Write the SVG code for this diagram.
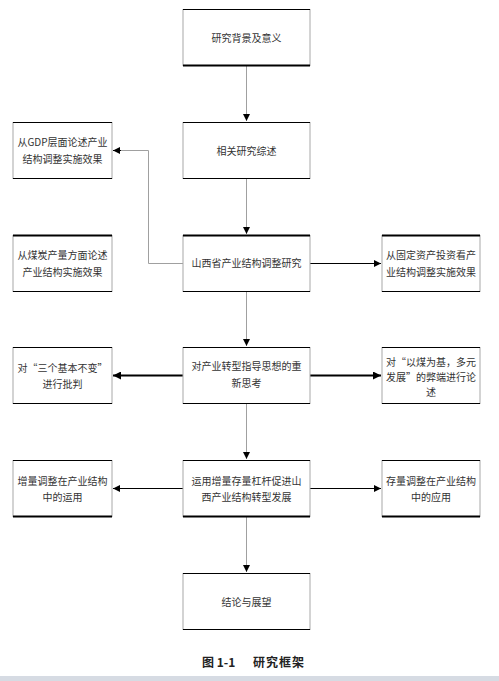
<svg xmlns="http://www.w3.org/2000/svg" width="499" height="681" viewBox="0 0 499 681">
<style>
.box{fill:#fff;stroke:#a8a8a8;stroke-width:1}
.tb{stroke:#000;stroke-width:1}
.tk{stroke:#000;stroke-width:2}
.t{font-family:"Noto Sans CJK SC","Noto Sans",sans-serif;font-size:10px;fill:#333;text-anchor:middle}
.c{font-family:"Noto Sans CJK SC","Noto Sans",sans-serif;font-size:12px;font-weight:bold;fill:#222}
.g{stroke:#a0a0a0;stroke-width:1;fill:none}
.k{stroke:#000;stroke-width:1;fill:none}
.k2{stroke:#000;stroke-width:2.2;fill:none}
</style>
<defs>
<marker id="a" viewBox="0 0 10 10" refX="10" refY="5" markerWidth="7" markerHeight="7" markerUnits="userSpaceOnUse" orient="auto"><path d="M0,0L10,5L0,10z" fill="#000"/></marker>
<marker id="a2" viewBox="0 0 10 10" refX="10" refY="5" markerWidth="8" markerHeight="8" markerUnits="userSpaceOnUse" orient="auto"><path d="M0,0L10,5L0,10z" fill="#000"/></marker>
</defs>
<rect width="499" height="681" fill="#fff"/>
<g id="connectors">
<line class="g" x1="246.5" y1="66" x2="246.5" y2="121" marker-end="url(#a)"/>
<line class="g" x1="246.5" y1="178" x2="246.5" y2="234" marker-end="url(#a)"/>
<line class="g" x1="246.5" y1="292" x2="246.5" y2="346" marker-end="url(#a)"/>
<line class="g" x1="246.5" y1="404" x2="246.5" y2="459" marker-end="url(#a)"/>
<line class="g" x1="246.5" y1="517" x2="246.5" y2="572" marker-end="url(#a)"/>
<polyline class="g" points="183,263.5 148.5,263.5 148.5,150.5 120,150.5"/>
<line class="k" x1="121" y1="150.5" x2="113" y2="150.5" marker-end="url(#a)"/>
<line class="k" x1="310" y1="263.5" x2="381" y2="263.5" marker-end="url(#a)"/>
<line class="k2" x1="183" y1="375.5" x2="113" y2="375.5" marker-end="url(#a2)"/>
<line class="k2" x1="310" y1="375.5" x2="381" y2="375.5" marker-end="url(#a2)"/>
<line class="k" x1="183" y1="488.5" x2="113" y2="488.5" marker-end="url(#a)"/>
<line class="k" x1="310" y1="488.5" x2="381" y2="488.5" marker-end="url(#a)"/>
</g>
<g id="n1"><rect class="box" x="183" y="9.5" width="127" height="56"/><line class="tb" x1="183" y1="9.5" x2="310" y2="9.5"/><line class="tk" x1="183" y1="65.5" x2="310" y2="65.5"/><text class="t" x="246.5" y="42">研究背景及意义</text></g>
<g id="n2"><rect class="box" x="183" y="122.5" width="127" height="56"/><line class="tb" x1="183" y1="122.5" x2="310" y2="122.5"/><line class="tb" x1="183" y1="178.5" x2="310" y2="178.5"/><text class="t" x="246.5" y="155">相关研究综述</text></g>
<g id="n3"><rect class="box" x="13" y="122.5" width="99" height="56"/><line class="tb" x1="13" y1="122.5" x2="112" y2="122.5"/><line class="tb" x1="13" y1="178.5" x2="112" y2="178.5"/><text class="t" x="62.5" y="146">从GDP层面论述产业</text><text class="t" x="62.5" y="163">结构调整实施效果</text></g>
<g id="n4"><rect class="box" x="13" y="235.5" width="99" height="56"/><line class="tk" x1="13" y1="235.5" x2="112" y2="235.5"/><line class="tb" x1="13" y1="291.5" x2="112" y2="291.5"/><text class="t" x="62.5" y="259">从煤炭产量方面论述</text><text class="t" x="62.5" y="276">产业结构实施效果</text></g>
<g id="n5"><rect class="box" x="183" y="235.5" width="127" height="56"/><line class="tk" x1="183" y1="235.5" x2="310" y2="235.5"/><line class="tb" x1="183" y1="291.5" x2="310" y2="291.5"/><text class="t" x="246.5" y="267">山西省产业结构调整研究</text></g>
<g id="n6"><rect class="box" x="382" y="235.5" width="98" height="56"/><line class="tk" x1="382" y1="235.5" x2="480" y2="235.5"/><line class="tb" x1="382" y1="291.5" x2="480" y2="291.5"/><text class="t" x="431" y="259">从固定资产投资看产</text><text class="t" x="431" y="276">业结构调整实施效果</text></g>
<g id="n7"><rect class="box" x="13" y="347.5" width="99" height="56"/><line class="tb" x1="13" y1="347.5" x2="112" y2="347.5"/><line class="tb" x1="13" y1="403.5" x2="112" y2="403.5"/><text class="t" x="62.5" y="372">对“三个基本不变”</text><text class="t" x="62.5" y="388">进行批判</text></g>
<g id="n8"><rect class="box" x="183" y="347.5" width="127" height="56"/><line class="tb" x1="183" y1="347.5" x2="310" y2="347.5"/><line class="tb" x1="183" y1="403.5" x2="310" y2="403.5"/><text class="t" x="246.5" y="370">对产业转型指导思想的重</text><text class="t" x="246.5" y="387">新思考</text></g>
<g id="n9"><rect class="box" x="382" y="347.5" width="98" height="56"/><line class="tb" x1="382" y1="347.5" x2="480" y2="347.5"/><line class="tb" x1="382" y1="403.5" x2="480" y2="403.5"/><text class="t" x="431" y="366">对“以煤为基，多元</text><text class="t" x="431" y="381">发展”的弊端进行论</text><text class="t" x="431" y="396">述</text></g>
<g id="n10"><rect class="box" x="13" y="460.5" width="99" height="56"/><line class="tb" x1="13" y1="460.5" x2="112" y2="460.5"/><line class="tk" x1="13" y1="516.5" x2="112" y2="516.5"/><text class="t" x="62.5" y="485">增量调整在产业结构</text><text class="t" x="62.5" y="501">中的运用</text></g>
<g id="n11"><rect class="box" x="183" y="460.5" width="127" height="56"/><line class="tb" x1="183" y1="460.5" x2="310" y2="460.5"/><line class="tk" x1="183" y1="516.5" x2="310" y2="516.5"/><text class="t" x="246.5" y="485">运用增量存量杠杆促进山</text><text class="t" x="246.5" y="501">西产业结构转型发展</text></g>
<g id="n12"><rect class="box" x="382" y="460.5" width="98" height="56"/><line class="tb" x1="382" y1="460.5" x2="480" y2="460.5"/><line class="tk" x1="382" y1="516.5" x2="480" y2="516.5"/><text class="t" x="431" y="485">存量调整在产业结构</text><text class="t" x="431" y="501">中的应用</text></g>
<g id="n13"><rect class="box" x="183" y="573.5" width="127" height="56"/><line class="tb" x1="183" y1="573.5" x2="310" y2="573.5"/><line class="tb" x1="183" y1="629.5" x2="310" y2="629.5"/><text class="t" x="246.5" y="606">结论与展望</text></g>
<text class="c" x="202" y="667">图 1-1<tspan x="253" letter-spacing="1">研究框架</tspan></text>
<rect x="0" y="676" width="499" height="5" fill="#d6dbe3"/>
</svg>
